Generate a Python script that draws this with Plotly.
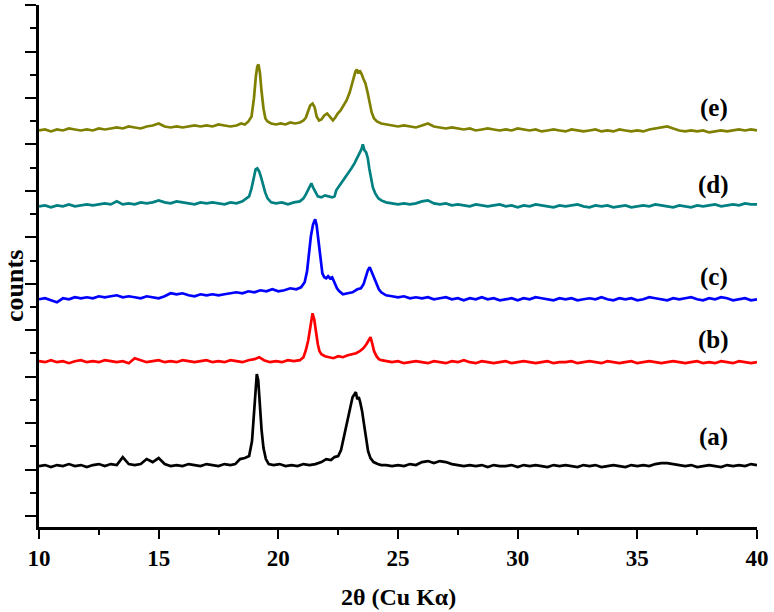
import plotly.graph_objects as go

# 2-theta sampling: shared head / tail segments, trace-specific middle (peak) segments
x_head = [10.0, 10.25, 10.5, 10.75, 11.0, 11.25, 11.5, 11.75, 12.0, 12.25, 12.5, 12.75,
          13.0, 13.25, 13.5, 13.75, 14.0, 14.25, 14.5, 14.75, 15.0, 15.25, 15.5, 15.75,
          16.0, 16.25, 16.5, 16.75, 17.0, 17.25, 17.5, 17.75, 18.0]
x_tail = [24.5, 24.75, 25.0, 25.25, 25.5, 25.75, 26.0, 26.25, 26.5, 26.75, 27.0, 27.25,
          27.5, 27.75, 28.0, 28.25, 28.5, 28.75, 29.0, 29.25, 29.5, 29.75, 30.0, 30.25,
          30.5, 30.75, 31.0, 31.25, 31.5, 31.75, 32.0, 32.25, 32.5, 32.75, 33.0, 33.25,
          33.5, 33.75, 34.0, 34.25, 34.5, 34.75, 35.0, 35.25, 35.5, 35.75, 36.0, 36.25,
          36.5, 36.75, 37.0, 37.25, 37.5, 37.75, 38.0, 38.25, 38.5, 38.75, 39.0, 39.25,
          39.5, 39.75, 40.0]

# (a) black
a_head = [50, 51, 49, 51, 50, 52, 50, 51, 49, 51, 52, 50, 52, 51, 59, 52, 51, 52, 57, 54,
          58, 52, 50, 51, 50, 52, 51, 50, 52, 51, 50, 52, 51]
a_mid_x = [18.2, 18.4, 18.6, 18.78, 18.9, 18.98, 19.04, 19.1, 19.16, 19.22, 19.3, 19.38,
           19.48, 19.6, 19.8, 20.05, 20.3, 20.55, 20.8, 21.05, 21.3, 21.55, 21.8, 22.0,
           22.2, 22.35, 22.5, 22.62, 22.75, 22.88, 23.0, 23.1, 23.18, 23.24, 23.3, 23.36,
           23.42, 23.5, 23.58, 23.66, 23.75, 23.85, 23.98, 24.15, 24.3]
a_mid = [52, 57, 58, 60, 75, 100, 128, 142, 136, 112, 86, 68, 57, 52, 51, 52, 50, 51, 50,
         52, 51, 52, 54, 57, 56, 59, 60, 66, 80, 96, 110, 119, 122, 124, 117, 119, 114,
         105, 92, 80, 65, 58, 54, 52, 51]
a_tail = [51, 50, 51, 50, 52, 51, 54, 55, 53, 55, 54, 52, 51, 50, 51, 50, 51, 49, 51, 50,
          50, 51, 49, 51, 50, 51, 50, 49, 51, 50, 51, 50, 49, 51, 50, 51, 49, 50, 51, 50,
          49, 51, 50, 51, 50, 52, 53, 53, 52, 51, 50, 51, 49, 50, 51, 50, 49, 51, 50, 51,
          50, 52, 51]

# (b) red
b_head = [155, 154, 156, 154, 155, 153, 155, 156, 154, 155, 154, 156, 155, 154, 155, 153,
          158, 156, 154, 155, 156, 154, 155, 154, 156, 155, 154, 155, 156, 154, 155, 154, 156]
b_mid_x = [18.25, 18.5, 18.75, 19.0, 19.2, 19.4, 19.65, 19.9, 20.15, 20.4, 20.65, 20.9,
           21.05, 21.15, 21.25, 21.32, 21.38, 21.43, 21.5, 21.57, 21.65, 21.72, 21.8,
           21.95, 22.1, 22.3, 22.5, 22.7, 22.9, 23.1, 23.25, 23.4, 23.55, 23.68, 23.78,
           23.85, 23.92, 24.0, 24.1, 24.2, 24.3]
b_mid = [155, 154, 156, 157, 159, 156, 154, 155, 154, 156, 155, 156, 159, 166, 176, 188,
         198, 203, 197, 184, 172, 165, 162, 160, 159, 158, 160, 159, 161, 162, 163, 165,
         168, 172, 177, 179, 173, 165, 160, 157, 156]
b_tail = [155, 154, 155, 153, 154, 155, 154, 153, 155, 154, 153, 155, 154, 156, 154, 153,
          155, 154, 153, 154, 155, 153, 154, 155, 154, 153, 154, 155, 153, 154, 154, 155,
          153, 154, 155, 154, 153, 155, 154, 153, 154, 155, 153, 154, 155, 154, 153, 154,
          155, 154, 153, 154, 155, 153, 154, 153, 155, 154, 153, 155, 154, 153, 154]

# (c) blue
c_head = [217, 218, 216, 214, 218, 217, 219, 218, 219, 218, 220, 219, 220, 221, 219, 220,
          219, 218, 220, 219, 218, 220, 223, 222, 223, 221, 220, 222, 221, 222, 221, 222, 223]
c_mid_x = [18.25, 18.5, 18.75, 19.0, 19.25, 19.5, 19.75, 20.0, 20.25, 20.5, 20.75, 20.95,
           21.1, 21.2, 21.28, 21.36, 21.45, 21.54, 21.6, 21.68, 21.76, 21.84, 21.92, 22.0,
           22.08, 22.16, 22.25, 22.35, 22.45, 22.55, 22.7, 22.9, 23.1, 23.3, 23.45, 23.56,
           23.65, 23.74, 23.82, 23.9, 23.98, 24.08, 24.2, 24.3]
c_mid = [224, 223, 225, 224, 226, 225, 227, 225, 226, 228, 227, 229, 234, 245, 262, 280,
         292, 297, 291, 276, 258, 243, 239, 238, 240, 238, 239, 233, 228, 225, 222, 223,
         224, 227, 228, 232, 239, 246, 249, 244, 240, 233, 227, 224]
c_tail = [221, 220, 219, 220, 218, 219, 218, 219, 217, 218, 219, 217, 218, 216, 218, 217,
          219, 217, 218, 216, 217, 218, 216, 218, 217, 219, 218, 217, 216, 218, 217, 218,
          216, 217, 218, 217, 219, 217, 216, 218, 217, 218, 216, 217, 219, 218, 217, 216,
          218, 217, 218, 219, 217, 216, 218, 217, 219, 218, 216, 217, 218, 216, 217]

# (d) teal
d_head = [310, 311, 309, 311, 310, 312, 310, 311, 312, 311, 312, 313, 312, 315, 312, 313,
          312, 314, 313, 314, 316, 314, 313, 315, 314, 313, 312, 314, 313, 314, 313, 312, 314]
d_mid_x = [18.25, 18.5, 18.65, 18.78, 18.88, 18.97, 19.05, 19.12, 19.2, 19.28, 19.36,
           19.45, 19.55, 19.7, 19.9, 20.15, 20.4, 20.65, 20.9, 21.05, 21.15, 21.25, 21.32,
           21.38, 21.45, 21.55, 21.65, 21.8, 21.95, 22.1, 22.25, 22.35, 22.42, 22.5, 22.62,
           22.75, 22.9, 23.05, 23.18, 23.3, 23.4, 23.47, 23.53, 23.6, 23.67, 23.74, 23.8,
           23.87, 23.95, 24.05, 24.18, 24.3]
d_mid = [313, 315, 318, 320, 328, 340, 347, 348, 345, 339, 331, 324, 318, 314, 313, 314,
         312, 314, 315, 318, 322, 327, 331, 333, 329, 324, 320, 319, 321, 320, 319, 320,
         326, 329, 333, 338, 343, 348, 353, 359, 364, 367, 372, 366, 364, 358, 348, 338,
         329, 323, 318, 316]
d_tail = [314, 313, 312, 313, 312, 313, 315, 316, 313, 312, 313, 311, 312, 311, 310, 312,
          311, 310, 311, 312, 310, 311, 309, 311, 310, 312, 311, 310, 309, 311, 310, 311,
          312, 310, 309, 311, 310, 311, 309, 310, 311, 309, 310, 311, 310, 312, 311, 310,
          309, 311, 310, 309, 311, 310, 311, 312, 310, 311, 312, 311, 313, 312, 312]

# (e) olive
e_head = [386, 387, 385, 387, 386, 388, 387, 386, 387, 386, 388, 387, 388, 389, 388, 390,
          389, 388, 390, 391, 393, 390, 389, 390, 389, 390, 391, 390, 391, 390, 392, 391, 390]
e_mid_x = [18.25, 18.45, 18.6, 18.75, 18.88, 18.98, 19.06, 19.12, 19.17, 19.23, 19.3,
           19.38, 19.46, 19.55, 19.7, 19.9, 20.1, 20.3, 20.5, 20.7, 20.9, 21.05, 21.15,
           21.25, 21.33, 21.43, 21.52, 21.6, 21.7, 21.8, 21.92, 22.04, 22.15, 22.28, 22.38,
           22.48, 22.6, 22.72, 22.85, 22.98, 23.08, 23.16, 23.22, 23.28, 23.34, 23.4, 23.47,
           23.55, 23.64, 23.73, 23.82, 23.9, 24.0, 24.12, 24.3]
e_mid = [391, 393, 392, 395, 400, 418, 440, 450, 452, 444, 425, 408, 398, 395, 393, 392,
         393, 392, 394, 393, 394, 396, 399, 405, 411, 413, 409, 400, 396, 397, 401, 403,
         400, 396, 399, 403, 406, 411, 416, 424, 434, 442, 445, 447, 443, 446, 443, 438,
         433, 424, 413, 404, 398, 395, 393]
e_tail = [392, 391, 390, 391, 390, 389, 391, 393, 390, 389, 388, 389, 388, 387, 388, 386,
          387, 388, 387, 386, 387, 386, 388, 387, 386, 387, 385, 386, 387, 386, 385, 387,
          386, 385, 386, 387, 385, 386, 385, 387, 386, 385, 386, 385, 387, 388, 389, 390,
          388, 386, 385, 386, 385, 386, 384, 385, 386, 385, 386, 387, 386, 387, 386]

series = [
    ("(a)", "#000000", a_mid_x, a_head + a_mid + a_tail, 79),
    ("(b)", "#ff0000", b_mid_x, b_head + b_mid + b_tail, 176),
    ("(c)", "#0000ff", c_mid_x, c_head + c_mid + c_tail, 239),
    ("(d)", "#008080", d_mid_x, d_head + d_mid + d_tail, 331),
    ("(e)", "#808000", e_mid_x, e_head + e_mid + e_tail, 408),
]

font_family = "Liberation Serif, Times New Roman, serif"

fig = go.Figure()
for name, color, mid_x, yvals, label_y in series:
    fig.add_trace(go.Scatter(
        x=x_head + mid_x + x_tail,
        y=yvals,
        mode="lines",
        line=dict(color=color, width=2.7),
        name=name,
        showlegend=False,
    ))
    fig.add_annotation(
        x=38.2, y=label_y, xref="x", yref="y",
        text="<b>" + name + "</b>", showarrow=False,
        font=dict(family=font_family, size=25, color="black"),
    )

fig.add_annotation(
    x=0.5, y=-0.134, xref="paper", yref="paper",
    text="<b>2θ (Cu Kα)</b>", showarrow=False, yanchor="middle",
    font=dict(family=font_family, size=24, color="black"),
)
fig.add_annotation(
    x=-0.0333, y=0.462, xref="paper", yref="paper",
    text="<b>counts</b>", showarrow=False, textangle=-90,
    xanchor="center", yanchor="middle",
    font=dict(family=font_family, size=26, color="black"),
)

fig.update_layout(
    width=774, height=612,
    margin=dict(l=39, r=14, t=5, b=85),
    paper_bgcolor="white",
    plot_bgcolor="white",
)

fig.update_xaxes(
    range=[10, 40], tick0=10, dtick=5,
    showline=True, linecolor="black", linewidth=2.5,
    ticks="outside", ticklen=9, tickwidth=2, tickcolor="black",
    minor=dict(dtick=2.5, ticks="outside", ticklen=5, tickwidth=2, tickcolor="black"),
    showgrid=False, zeroline=False,
    tickfont=dict(family=font_family, size=23, color="black", weight="bold"),
)
fig.update_yaxes(
    range=[-11, 511.6], tick0=0, dtick=46.5,
    showline=True, linecolor="black", linewidth=2.5,
    ticks="outside", ticklen=11, tickwidth=2, tickcolor="black",
    minor=dict(dtick=23.25, ticks="outside", ticklen=6, tickwidth=2, tickcolor="black"),
    showticklabels=False, showgrid=False, zeroline=False,
)

fig.write_html("out.html", config={"displayModeBar": False},
               post_script="document.body.style.margin='0px';")
